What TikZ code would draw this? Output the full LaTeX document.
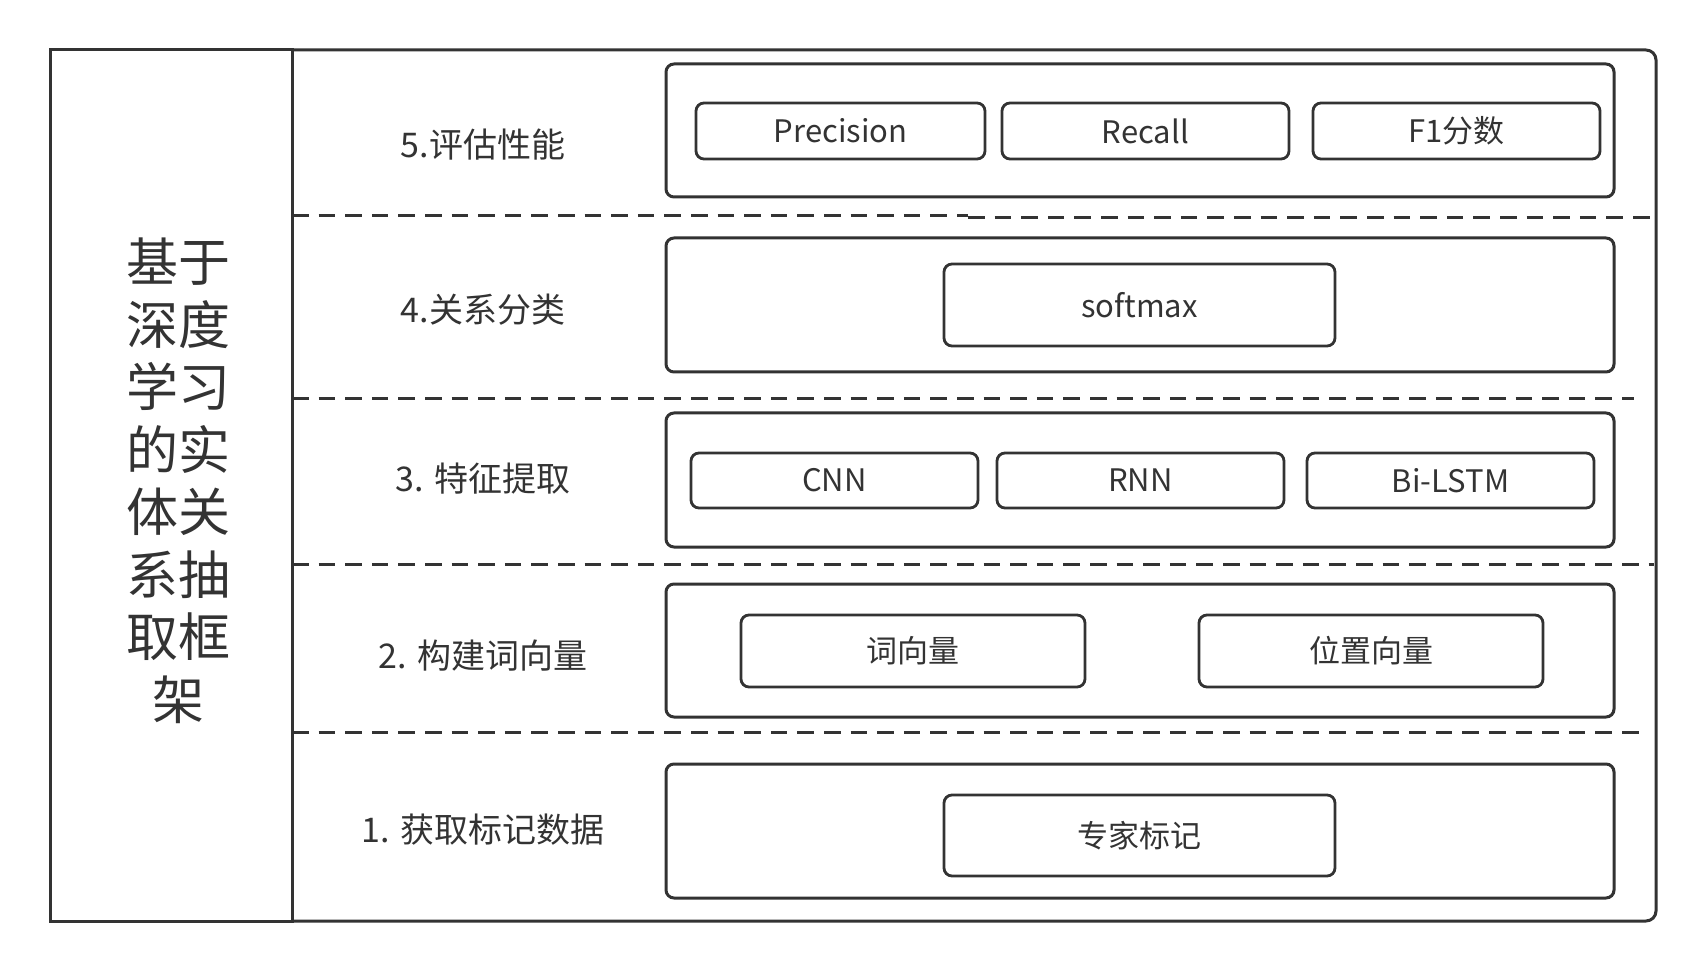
\documentclass[tikz,border=0pt]{standalone}
\usepackage{fontspec}
\setmainfont{Noto Sans CJK SC}
\usetikzlibrary{positioning}
\definecolor{ink}{HTML}{333333}
\tikzset{
	frame/.style={draw=ink, line width=1.5pt},
	secbox/.style={draw=ink, line width=1.5pt, rounded corners=4pt},
	inbox/.style={draw=ink, line width=1.4pt, rounded corners=4pt, text=ink, font=\fontsize{15.5}{18}\selectfont},
	layer/.style={draw=ink, line width=1.5pt, dash pattern=on 8.3pt off 5pt},
	steplabel/.style={text=ink, font=\fontsize{17}{20}\selectfont},
}

\begin{document}
\begin{tikzpicture}[x=0.5pt,y=-0.5pt]
	\useasboundingbox (0,0) rectangle (1706,972);
	% outer frame
	\draw[frame] (50,50) rectangle (292,921);
	\draw[frame, rounded corners=5pt] (292,50) -| (1656,921) -- (292,921);
	\node[text=ink, align=center, font=\fontsize{26}{31.25}\selectfont] (title) at (178,481)
		{基于\\深度\\学习\\的实\\体关\\系抽\\取框\\架};
	% layer borders
	\draw[layer] (292,216) -- (968,216);
	\draw[layer] (968,218) -- (1650,218);
	\draw[layer] (292,399) -- (1634,399);
	\draw[layer] (292,564) -- (1654,564);
	\draw[layer] (292,732) -- (1646,732);
	% step names
	\node[steplabel] (s5) at (483,145){5.评估性能};
	\node[steplabel] (s4) at (483,310){4.关系分类};
	\node[steplabel] (s3) at (483,479){3. 特征提取};
	\node[steplabel] (s2) at (483,656){2. 构建词向量};
	\node[steplabel] (s1) at (483,830){1. 获取标记数据};
	% section boxes
	\draw[secbox] (666,64) rectangle (1614,197);
	\draw[secbox] (666,238) rectangle (1614,372);
	\draw[secbox] (666,413) rectangle (1614,547);
	\draw[secbox] (666,584) rectangle (1614,717);
	\draw[secbox] (666,764) rectangle (1614,898);
	% 5
	\node[inbox, minimum width=144.5pt, minimum height=28pt] (prec) at (840.5,131){Precision};
	\node[inbox, minimum width=143.5pt, minimum height=28pt] (recall) at (1145.5,131){Recall};
	\node[inbox, minimum width=143.5pt, minimum height=28pt] (fone) at (1456.5,131){F1分数};
	% 4
	\node[inbox, minimum width=195.5pt, minimum height=41pt] (softmax) at (1139.5,305){softmax};
	% 3
	\node[inbox, minimum width=143.5pt, minimum height=27.5pt] (cnn) at (834.5,480.5){CNN};
	\node[inbox, minimum width=143.5pt, minimum height=27.5pt] (rnn) at (1140.5,480.5){RNN};
	\node[inbox, minimum width=143.5pt, minimum height=27.5pt] (bilstm) at (1450.5,480.5){Bi-LSTM};
	% 2
	\node[inbox, minimum width=172pt, minimum height=36pt] (wordvec) at (913,651){词向量};
	\node[inbox, minimum width=172pt, minimum height=36pt] (posvec) at (1371,651){位置向量};
	% 1
	\node[inbox, minimum width=195.5pt, minimum height=40.5pt] (expert) at (1139.5,835.5){专家标记};
\end{tikzpicture}
\end{document}
